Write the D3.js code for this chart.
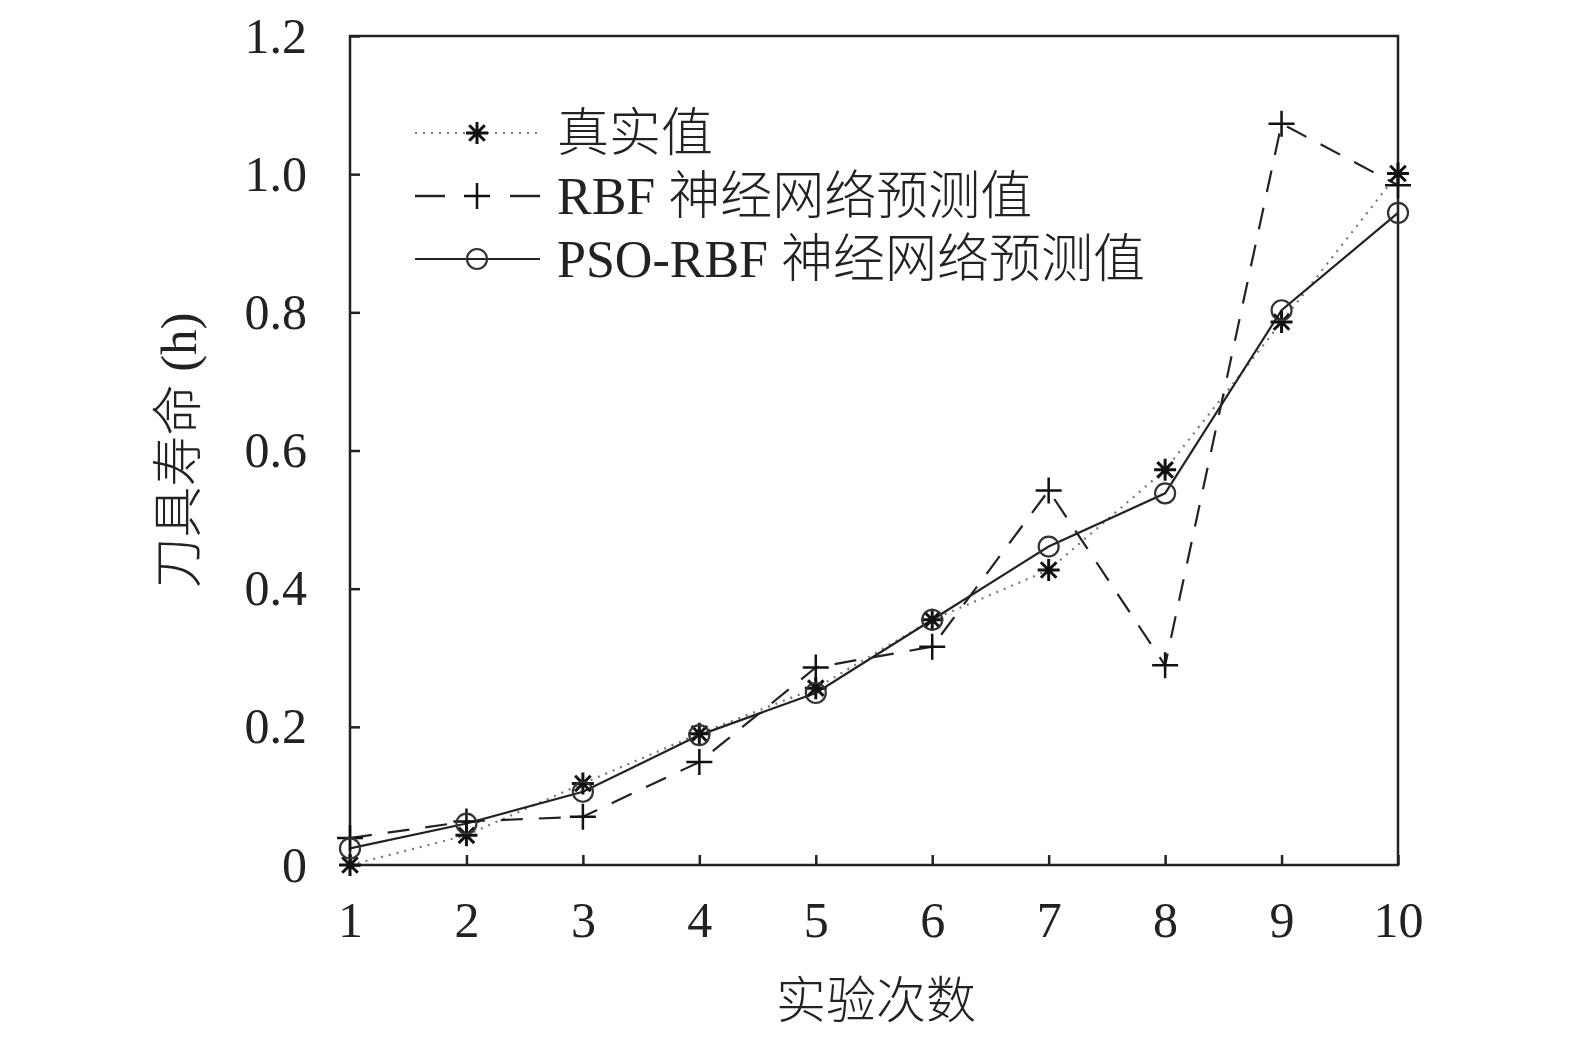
<!DOCTYPE html>
<html>
<head>
<meta charset="utf-8">
<script src="https://cdn.jsdelivr.net/npm/d3@7"></script>
<style>
  body { margin: 0; background: #fff; }
  text { font-family: "Liberation Serif", "Noto Sans CJK SC", serif; fill: #222; }
</style>
</head>
<body>
<div id="chart"></div>
<script>
// 实验次数
const runs = [1, 2, 3, 4, 5, 6, 7, 8, 9, 10];
// 真实值
const trueValues = [0.0, 0.043, 0.118, 0.190, 0.256, 0.355, 0.427, 0.572, 0.786, 1.001];
// RBF 神经网络预测值
const rbfValues = [0.039, 0.063, 0.070, 0.149, 0.286, 0.316, 0.542, 0.289, 1.073, 0.984];
// PSO-RBF 神经网络预测值
const psoValues = [0.024, 0.060, 0.106, 0.188, 0.249, 0.355, 0.461, 0.538, 0.803, 0.944];
const yTicks = [0, 0.2, 0.4, 0.6, 0.8, 1.0, 1.2];
const yTickLabels = ['0', '0.2', '0.4', '0.6', '0.8', '1.0', '1.2'];
const seriesNames = ['真实值', 'RBF 神经网络预测值', 'PSO-RBF 神经网络预测值'];

const width = 1575, height = 1037;
const margin = { top: 36, right: 177, bottom: 172, left: 350 };
const innerW = width - margin.left - margin.right;
const innerH = height - margin.top - margin.bottom;

const svg = d3.select('#chart').append('svg')
  .attr('width', width).attr('height', height);
const g = svg.append('g').attr('transform', `translate(${margin.left},${margin.top})`);

const x = d3.scaleLinear().domain([1, 10]).range([0, innerW]);
const y = d3.scaleLinear().domain([0, 1.2]).range([innerH, 0]);

// 坐标框
g.append('rect')
  .attr('width', innerW).attr('height', innerH)
  .attr('fill', 'none').attr('stroke', '#222').attr('stroke-width', 2.5);

// 坐标轴（刻度朝内）
const xAxis = g.append('g').attr('transform', `translate(0,${innerH})`)
  .call(d3.axisBottom(x).tickValues(runs).tickFormat(d3.format('d')).tickSize(-10).tickPadding(36));
const yAxis = g.append('g')
  .call(d3.axisLeft(y).tickValues(yTicks).tickFormat((d, i) => yTickLabels[i]).tickSize(-10).tickPadding(43));
[xAxis, yAxis].forEach(ax => {
  ax.select('.domain').remove();
  ax.selectAll('.tick line').attr('stroke', '#222').attr('stroke-width', 2.5);
  ax.selectAll('.tick text').style('font-size', '50px').attr('fill', '#222')
    .style('font-family', '"Liberation Serif", serif');
});
xAxis.selectAll('.tick text').attr('dy', '0.71em');
yAxis.selectAll('.tick text').attr('dy', '0.32em');

const series = [
  { name: seriesNames[0], values: trueValues, dash: '2,6', color: '#777', width: 2.2, marker: 'star' },
  { name: seriesNames[1], values: rbfValues, dash: '22,16', color: '#222', width: 2.2, marker: 'plus' },
  { name: seriesNames[2], values: psoValues, dash: null, color: '#222', width: 2.2, marker: 'circle' }
];

const line = d3.line().x((d, i) => x(runs[i])).y(d => y(d));

function drawMarker(sel, type) {
  if (type === 'star') {
    const r = 11;
    const p = [];
    for (let k = 0; k < 4; k++) {
      const a = k * Math.PI / 4;
      p.push(`M${-r * Math.sin(a)},${-r * Math.cos(a)}L${r * Math.sin(a)},${r * Math.cos(a)}`);
    }
    sel.append('path').attr('d', p.join('')).attr('stroke', '#111').attr('stroke-width', 3).attr('fill', 'none');
  } else if (type === 'plus') {
    const r = 13;
    sel.append('path').attr('d', `M${-r},0L${r},0M0,${-r}L0,${r}`)
      .attr('stroke', '#111').attr('stroke-width', 2.5).attr('fill', 'none');
  } else {
    sel.append('circle').attr('r', 10).attr('fill', 'none').attr('stroke', '#333').attr('stroke-width', 2.2);
  }
}

// 折线
series.forEach(s => {
  g.append('path').datum(s.values)
    .attr('d', line)
    .attr('fill', 'none')
    .attr('stroke', s.color)
    .attr('stroke-width', s.width)
    .attr('stroke-dasharray', s.dash);
});
// 标记
series.forEach(s => {
  g.selectAll(null).data(s.values).enter().append('g')
    .attr('transform', (d, i) => `translate(${x(runs[i])},${y(d)})`)
    .each(function () { drawMarker(d3.select(this), s.marker); });
});

// 图例
const legend = svg.append('g').attr('transform', 'translate(415,133)');
series.forEach((s, i) => {
  const row = legend.append('g').attr('transform', `translate(0,${i * 63})`);
  if (s.marker === 'plus') {
    row.append('line').attr('x1', 0).attr('x2', 30).attr('stroke', s.color).attr('stroke-width', 2.5);
    row.append('line').attr('x1', 95).attr('x2', 125).attr('stroke', s.color).attr('stroke-width', 2.5);
  } else {
    row.append('line').attr('x1', 0).attr('x2', 125)
      .attr('stroke', s.color).attr('stroke-width', s.width).attr('stroke-dasharray', s.dash);
  }
  drawMarker(row.append('g').attr('transform', 'translate(62,0)'), s.marker);
  row.append('text').attr('x', 142).attr('dy', '0.35em')
    .style('font-size', '52px').style('font-weight', 300).text(s.name);
});

// 轴标题
svg.append('text')
  .attr('x', margin.left + innerW / 2 + 2).attr('y', 1018)
  .attr('text-anchor', 'middle').style('font-size', '50px').style('font-weight', 300).text('实验次数');
svg.append('text')
  .attr('transform', `translate(196,${margin.top + innerH / 2}) rotate(-90)`)
  .attr('text-anchor', 'middle').style('font-size', '51px').style('font-weight', 300).text('刀具寿命 (h)');
</script>
</body>
</html>
